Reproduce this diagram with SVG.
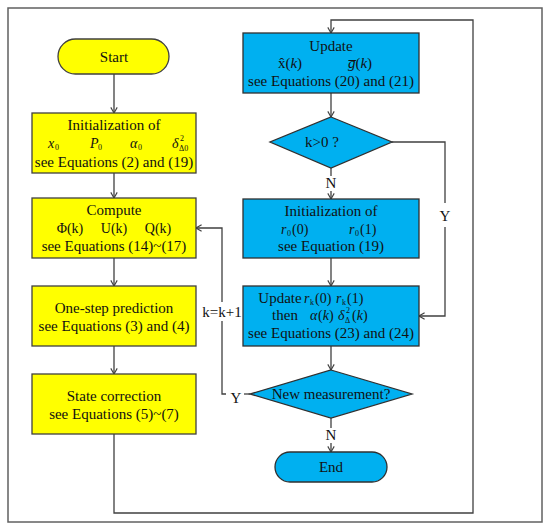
<svg xmlns="http://www.w3.org/2000/svg" width="550" height="531" viewBox="0 0 550 531">
<style>
.t{font-family:"Liberation Serif","Times New Roman",serif;font-size:15px;fill:#111;text-anchor:middle}
.m{font-family:"Liberation Serif","Times New Roman",serif;font-size:14px;fill:#111;font-style:italic}
.s{font-family:"Liberation Serif","Times New Roman",serif;font-size:8px;fill:#111}
.u{font-family:"Liberation Serif","Times New Roman",serif;font-size:14px;fill:#111}
.y{fill:#FFFF00;stroke:#404040;stroke-width:1.3}
.b{fill:#00B0F0;stroke:#303030;stroke-width:1.3}
.c{fill:none;stroke:#404040;stroke-width:1.3}
</style>
<defs>
<marker id="a" viewBox="0 0 10 10" refX="10" refY="5" markerWidth="8" markerHeight="8" markerUnits="userSpaceOnUse" orient="auto">
<path d="M3,1 L10,5 L3,9" fill="none" stroke="#404040" stroke-width="1.4"/>
</marker>
</defs>
<rect x="0" y="0" width="550" height="531" fill="#fff"/>
<rect id="frame" x="8" y="8" width="534" height="514" fill="none" stroke="#606060" stroke-width="1.5"/>

<g id="connectors">
<line class="c" x1="114" y1="74" x2="114" y2="113" marker-end="url(#a)"/>
<line class="c" x1="114" y1="173" x2="114" y2="198" marker-end="url(#a)"/>
<line class="c" x1="114" y1="258" x2="114" y2="286" marker-end="url(#a)"/>
<line class="c" x1="114" y1="346" x2="114" y2="374" marker-end="url(#a)"/>
<polyline class="c" points="114,434 114,513 473,513 473,20 331,20 331,33" marker-end="url(#a)"/>
<line class="c" x1="331" y1="93" x2="331" y2="117" marker-end="url(#a)"/>
<line class="c" x1="331" y1="168" x2="331" y2="176"/>
<line class="c" x1="331" y1="191" x2="331" y2="199" marker-end="url(#a)"/>
<polyline class="c" points="392,142 445,142 445,203"/>
<polyline class="c" points="445,227 445,316 419,316" marker-end="url(#a)"/>
<line class="c" x1="331" y1="258" x2="331" y2="286" marker-end="url(#a)"/>
<line class="c" x1="331" y1="346" x2="331" y2="370" marker-end="url(#a)"/>
<line class="c" x1="331" y1="418" x2="331" y2="428"/>
<line class="c" x1="331" y1="443" x2="331" y2="452" marker-end="url(#a)"/>
<line class="c" x1="250" y1="394" x2="244" y2="394"/>
<polyline class="c" points="226,394 222,394 222,321"/>
<polyline class="c" points="222,302 222,228 196,228" marker-end="url(#a)"/>
<text class="t" x="222" y="317">k=k+1</text>
<text class="t" x="236" y="403">Y</text>
<text class="t" x="445" y="221">Y</text>
<text class="t" x="331" y="188">N</text>
<text class="t" x="331" y="440">N</text>
</g>

<g id="start">
<rect class="y" x="58" y="39" width="111" height="35" rx="17.5"/>
<text class="t" x="114" y="62">Start</text>
</g>

<g id="init">
<rect class="y" x="32" y="113" width="164" height="60"/>
<text class="t" x="114" y="130">Initialization of</text>
<text class="m" x="48" y="148">x</text><text class="s" x="55" y="150">0</text>
<text class="m" x="90" y="148">P</text><text class="s" x="98" y="150">0</text>
<text class="m" x="130" y="148">α</text><text class="s" x="138" y="150">0</text>
<text class="m" x="172" y="148">δ</text><text class="s" x="180" y="141">2</text><text class="s" x="179" y="151">Δ0</text>
<text class="t" x="114" y="167">see Equations (2) and (19)</text>
</g>

<g id="compute">
<rect class="y" x="32" y="198" width="164" height="60"/>
<text class="t" x="114" y="215">Compute</text>
<text class="u" x="70" y="233" text-anchor="middle">Φ(k)</text>
<text class="u" x="114" y="233" text-anchor="middle">U(k)</text>
<text class="u" x="158" y="233" text-anchor="middle">Q(k)</text>
<text class="t" x="114" y="251">see Equations (14)~(17)</text>
</g>

<g id="predict">
<rect class="y" x="32" y="286" width="164" height="60"/>
<text class="t" x="114" y="313">One-step prediction</text>
<text class="t" x="114" y="331">see Equations (3) and (4)</text>
</g>

<g id="correct">
<rect class="y" x="32" y="374" width="164" height="60"/>
<text class="t" x="114" y="401">State correction</text>
<text class="t" x="114" y="419">see Equations (5)~(7)</text>
</g>

<g id="update">
<rect class="b" x="243" y="33" width="176" height="60"/>
<text class="t" x="331" y="51">Update</text>
<text class="t" x="290" y="68">x̂(<tspan font-style="italic">k</tspan>)</text>
<text class="t" x="360" y="68"><tspan font-style="italic">g̅</tspan>(<tspan font-style="italic">k</tspan>)</text>
<text class="t" x="331" y="86">see Equations (20) and (21)</text>
</g>

<g id="k0">
<polygon class="b" points="331,117 392,142 331,168 270,142"/>
<text class="t" x="322" y="147" text-anchor="start">k&gt;0  ?</text>
</g>

<g id="initr">
<rect class="b" x="243" y="199" width="176" height="59"/>
<text class="t" x="331" y="216">Initialization of</text>
<text class="m" x="281" y="234">r</text><text class="s" x="287" y="236">0</text><text class="u" x="292" y="234">(0)</text>
<text class="m" x="349" y="234">r</text><text class="s" x="355" y="236">0</text><text class="u" x="360" y="234">(1)</text>
<text class="t" x="331" y="251">see Equation (19)</text>
</g>

<g id="updater">
<rect class="b" x="243" y="286" width="176" height="60"/>
<text class="t" x="280" y="303">Update</text>
<text class="m" x="304" y="303">r</text><text class="s" x="310" y="305">k</text><text class="u" x="315" y="303">(0)</text>
<text class="m" x="336" y="303">r</text><text class="s" x="342" y="305">k</text><text class="u" x="347" y="303">(1)</text>
<text class="t" x="285" y="320">then</text>
<text class="m" x="310" y="320">α</text><text class="u" x="318" y="320">(<tspan font-style="italic">k</tspan>)</text>
<text class="m" x="338" y="320">δ</text><text class="s" x="346" y="313">2</text><text class="s" x="345" y="323">Δ</text><text class="u" x="352" y="320">(<tspan font-style="italic">k</tspan>)</text>
<text class="t" x="331" y="338">see Equations (23) and (24)</text>
</g>

<g id="newmeas">
<polygon class="b" points="331,370 412,394 331,418 250,394"/>
<text class="t" x="331" y="399">New measurement?</text>
</g>

<g id="end">
<rect class="b" x="275" y="452" width="112" height="30" rx="15"/>
<text class="t" x="331" y="472">End</text>
</g>
</svg>
